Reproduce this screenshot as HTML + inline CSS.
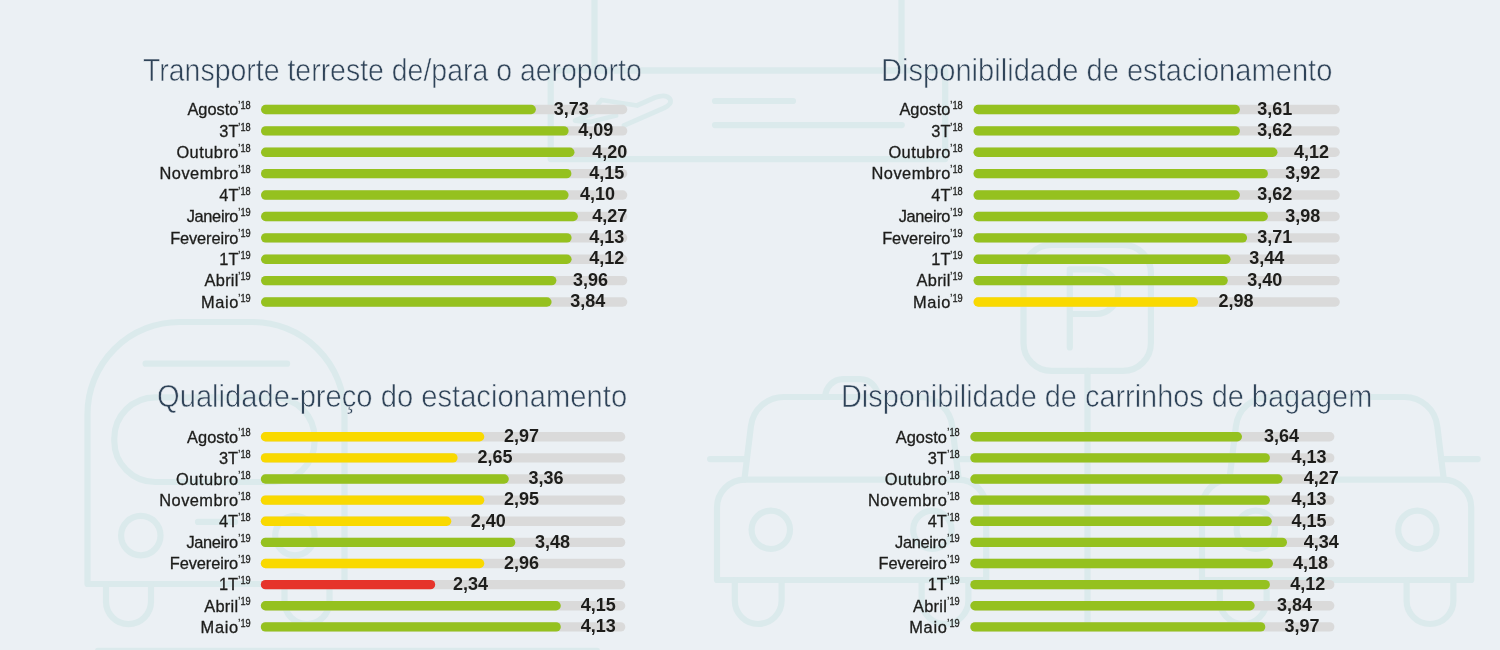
<!DOCTYPE html>
<html lang="pt">
<head>
<meta charset="utf-8">
<title>Indicadores de satisfação</title>
<style>
html,body{margin:0;padding:0;}
body{width:1500px;height:650px;overflow:hidden;background:#ebf0f4;position:relative;font-family:"Liberation Sans",sans-serif;}
#bg,#bars{position:absolute;left:0;top:0;}
.t{position:absolute;white-space:nowrap;color:#2f4358;font-size:31.3px;line-height:31.3px;transform-origin:0 0;font-weight:400;-webkit-text-stroke:0.6px #ebf0f4;}
.l{position:absolute;white-space:nowrap;color:#1d1d1b;font-size:16.4px;line-height:20px;text-align:right;-webkit-text-stroke:0.3px #1d1d1b;}
.l sup{display:inline-block;font-size:11px;line-height:0;vertical-align:baseline;position:relative;top:-6.1px;transform:scaleX(.84);transform-origin:100% 50%;margin-left:-2.3px;}
.v{position:absolute;white-space:nowrap;color:#1d1d1b;font-weight:700;font-size:18px;line-height:20px;}
</style>
</head>
<body>
<svg id="bg" width="1500" height="650" viewBox="0 0 1500 650" fill="none" stroke="#dbeaec" stroke-width="6.2" stroke-linecap="round" stroke-linejoin="round">

<path d="M594.5 -5 V70.5 H901.5 V-5"/>
<rect x="550.7" y="70.5" width="394.5" height="88.6"/>
<path d="M715 101 H793 M715 125.1 H901.8"/>
<path stroke-width="4.8" d="M598 104 L601.5 100 L637 105.5 L655 97.5 Q666 93.5 670 99 Q672.5 104 664 108 L624 125.5 M616 115.5 L590 122 L575 120.5 L594 113"/>
<path d="M87.5 584 V414 A92 92 0 0 1 179.5 322 H252.5 A92 92 0 0 1 344.5 414 V584 Z"/>
<rect x="114.3" y="397.3" width="200.3" height="84.7" rx="41"/>
<path d="M145.6 363.7 H287.1 M198 521.9 H235"/>
<circle cx="140.8" cy="535.6" r="19.7"/><circle cx="294.9" cy="535.6" r="19.7"/>
<path d="M106.0 584 V601.6 A22.5 22.5 0 0 0 151.0 601.6 V584"/>
<path d="M284.5 584 V601.6 A22.5 22.5 0 0 0 329.5 601.6 V584"/>
<path d="M98 650.8 H597"/>
<rect x="1023.5" y="244.8" width="127.4" height="126.1" rx="28"/>
<path d="M1087.5 370.9 V624 M1047 626 H1128"/>
<path d="M1069.8 347.5 V269.4 H1095.9 A22.3 22.3 0 0 1 1095.9 314 H1069.8"/>
<path d="M717.0 580 V507.6 A28 28 0 0 1 745.0 479.6 H958.2 A28 28 0 0 1 986.2 507.6 V580 Z"/>
<path d="M744.4 479.6 L750.9 426.3 A33 33 0 0 1 784.0 397 H919.2 A33 33 0 0 1 952.3 426.3 L958.8 479.6"/>
<path d="M825.3 397 A17.8 17.8 0 0 1 843.1 379.2 H860.1 A17.8 17.8 0 0 1 877.9 397"/>
<path d="M710.1 459.1 H746.8 M956.4 459.1 H992.8"/>
<circle cx="770.8" cy="529.8" r="19.2"/>
<circle cx="932.4" cy="529.8" r="19.2"/>
<path d="M734.8 580 V600.6 A23.4 23.4 0 0 0 781.6 600.6 V580"/>
<path d="M921.6 580 V600.6 A23.4 23.4 0 0 0 968.4 600.6 V580"/>
<path d="M1202.0 580 V507.6 A28 28 0 0 1 1230.0 479.6 H1443.2 A28 28 0 0 1 1471.2 507.6 V580 Z"/>
<path d="M1229.4 479.6 L1235.9 426.3 A33 33 0 0 1 1269.0 397 H1404.2 A33 33 0 0 1 1437.3 426.3 L1443.8 479.6"/>
<path d="M1195.1 459.1 H1231.8 M1441.4 459.1 H1477.8"/>
<circle cx="1255.8" cy="529.8" r="19.2"/>
<circle cx="1417.4" cy="529.8" r="19.2"/>
<path d="M1219.8 580 V600.6 A23.4 23.4 0 0 0 1266.6 600.6 V580"/>
<path d="M1406.6 580 V600.6 A23.4 23.4 0 0 0 1453.4 600.6 V580"/>
</svg>

<svg id="bars" width="1500" height="650" viewBox="0 0 1500 650" fill="none" stroke-width="9.4" stroke-linecap="round">
<path stroke="#dadada" d="M265.7 109.50H622.6"/><path stroke="#95c11f" d="M265.7 109.50H531.2"/>
<path stroke="#dadada" d="M265.7 130.89H622.6"/><path stroke="#95c11f" d="M265.7 130.89H563.9"/>
<path stroke="#dadada" d="M265.7 152.28H622.6"/><path stroke="#95c11f" d="M265.7 152.28H569.8"/>
<path stroke="#dadada" d="M265.7 173.67H622.6"/><path stroke="#95c11f" d="M265.7 173.67H566.7"/>
<path stroke="#dadada" d="M265.7 195.06H622.6"/><path stroke="#95c11f" d="M265.7 195.06H563.9"/>
<path stroke="#dadada" d="M265.7 216.45H622.6"/><path stroke="#95c11f" d="M265.7 216.45H573.2"/>
<path stroke="#dadada" d="M265.7 237.84H622.6"/><path stroke="#95c11f" d="M265.7 237.84H566.9"/>
<path stroke="#dadada" d="M265.7 259.23H622.6"/><path stroke="#95c11f" d="M265.7 259.23H566.9"/>
<path stroke="#dadada" d="M265.7 280.62H622.6"/><path stroke="#95c11f" d="M265.7 280.62H551.7"/>
<path stroke="#dadada" d="M265.7 302.01H622.6"/><path stroke="#95c11f" d="M265.7 302.01H546.9"/>
<path stroke="#dadada" d="M978.2 109.50H1335.1"/><path stroke="#95c11f" d="M978.2 109.50H1235.2"/>
<path stroke="#dadada" d="M978.2 130.89H1335.1"/><path stroke="#95c11f" d="M978.2 130.89H1235.2"/>
<path stroke="#dadada" d="M978.2 152.28H1335.1"/><path stroke="#95c11f" d="M978.2 152.28H1272.8"/>
<path stroke="#dadada" d="M978.2 173.67H1335.1"/><path stroke="#95c11f" d="M978.2 173.67H1263.2"/>
<path stroke="#dadada" d="M978.2 195.06H1335.1"/><path stroke="#95c11f" d="M978.2 195.06H1235.2"/>
<path stroke="#dadada" d="M978.2 216.45H1335.1"/><path stroke="#95c11f" d="M978.2 216.45H1263.2"/>
<path stroke="#dadada" d="M978.2 237.84H1335.1"/><path stroke="#95c11f" d="M978.2 237.84H1242.4"/>
<path stroke="#dadada" d="M978.2 259.23H1335.1"/><path stroke="#95c11f" d="M978.2 259.23H1225.9"/>
<path stroke="#dadada" d="M978.2 280.62H1335.1"/><path stroke="#95c11f" d="M978.2 280.62H1223.1"/>
<path stroke="#dadada" d="M978.2 302.01H1335.1"/><path stroke="#f9d900" d="M978.2 302.01H1193.3"/>
<path stroke="#dadada" d="M265.5 436.80H620.6"/><path stroke="#f9d900" d="M265.5 436.80H479.6"/>
<path stroke="#dadada" d="M265.5 457.92H620.6"/><path stroke="#f9d900" d="M265.5 457.92H452.9"/>
<path stroke="#dadada" d="M265.5 479.04H620.6"/><path stroke="#95c11f" d="M265.5 479.04H504.1"/>
<path stroke="#dadada" d="M265.5 500.16H620.6"/><path stroke="#f9d900" d="M265.5 500.16H479.6"/>
<path stroke="#dadada" d="M265.5 521.28H620.6"/><path stroke="#f9d900" d="M265.5 521.28H446.6"/>
<path stroke="#dadada" d="M265.5 542.40H620.6"/><path stroke="#95c11f" d="M265.5 542.40H510.6"/>
<path stroke="#dadada" d="M265.5 563.52H620.6"/><path stroke="#f9d900" d="M265.5 563.52H479.6"/>
<path stroke="#dadada" d="M265.5 584.64H620.6"/><path stroke="#e6332a" d="M265.5 584.64H430.5"/>
<path stroke="#dadada" d="M265.5 605.76H620.6"/><path stroke="#95c11f" d="M265.5 605.76H556.1"/>
<path stroke="#dadada" d="M265.5 626.88H620.6"/><path stroke="#95c11f" d="M265.5 626.88H556.1"/>
<path stroke="#dadada" d="M975.0 436.80H1329.7"/><path stroke="#95c11f" d="M975.0 436.80H1237.3"/>
<path stroke="#dadada" d="M975.0 457.92H1329.7"/><path stroke="#95c11f" d="M975.0 457.92H1265.2"/>
<path stroke="#dadada" d="M975.0 479.04H1329.7"/><path stroke="#95c11f" d="M975.0 479.04H1277.9"/>
<path stroke="#dadada" d="M975.0 500.16H1329.7"/><path stroke="#95c11f" d="M975.0 500.16H1265.2"/>
<path stroke="#dadada" d="M975.0 521.28H1329.7"/><path stroke="#95c11f" d="M975.0 521.28H1267.1"/>
<path stroke="#dadada" d="M975.0 542.40H1329.7"/><path stroke="#95c11f" d="M975.0 542.40H1282.3"/>
<path stroke="#dadada" d="M975.0 563.52H1329.7"/><path stroke="#95c11f" d="M975.0 563.52H1268.3"/>
<path stroke="#dadada" d="M975.0 584.64H1329.7"/><path stroke="#95c11f" d="M975.0 584.64H1265.2"/>
<path stroke="#dadada" d="M975.0 605.76H1329.7"/><path stroke="#95c11f" d="M975.0 605.76H1250.0"/>
<path stroke="#dadada" d="M975.0 626.88H1329.7"/><path stroke="#95c11f" d="M975.0 626.88H1260.6"/>
</svg>
<div class="t" style="left:142.7px;top:55.1px;transform:scaleX(0.9091)">Transporte terreste de/para o aeroporto</div>
<div class="l" style="right:1249.2px;top:99.2px">Agosto<sup>’18</sup></div>
<div class="v" style="left:553.8px;top:98.7px">3,73</div>
<div class="l" style="right:1249.2px;top:120.6px">3T<sup>’18</sup></div>
<div class="v" style="left:578.2px;top:120.1px">4,09</div>
<div class="l" style="right:1249.2px;top:142.0px"><span style="letter-spacing:0.47px;margin-right:-0.47px">Outubro</span><sup>’18</sup></div>
<div class="v" style="left:592.3px;top:141.5px">4,20</div>
<div class="l" style="right:1249.2px;top:163.4px"><span style="letter-spacing:0.46px;margin-right:-0.46px">Novembro</span><sup>’18</sup></div>
<div class="v" style="left:589.2px;top:162.9px">4,15</div>
<div class="l" style="right:1249.2px;top:184.8px">4T<sup>’18</sup></div>
<div class="v" style="left:580.0px;top:184.3px">4,10</div>
<div class="l" style="right:1249.2px;top:206.1px"><span style="letter-spacing:-0.34px;margin-right:0.34px">Janeiro</span><sup>’19</sup></div>
<div class="v" style="left:592.3px;top:205.6px">4,27</div>
<div class="l" style="right:1249.2px;top:227.5px"><span style="letter-spacing:-0.12px;margin-right:0.12px">Fevereiro</span><sup>’19</sup></div>
<div class="v" style="left:589.2px;top:227.0px">4,13</div>
<div class="l" style="right:1249.2px;top:248.9px">1T<sup>’19</sup></div>
<div class="v" style="left:589.2px;top:248.4px">4,12</div>
<div class="l" style="right:1249.2px;top:270.3px"><span style="letter-spacing:0.26px;margin-right:-0.26px">Abril</span><sup>’19</sup></div>
<div class="v" style="left:573.1px;top:269.8px">3,96</div>
<div class="l" style="right:1249.2px;top:291.7px"><span style="letter-spacing:0.65px;margin-right:-0.65px">Maio</span><sup>’19</sup></div>
<div class="v" style="left:570.3px;top:291.2px">3,84</div>
<div class="t" style="left:880.5px;top:55.1px;transform:scaleX(0.9298)">Disponibilidade de estacionamento</div>
<div class="l" style="right:537.2px;top:99.2px">Agosto<sup>’18</sup></div>
<div class="v" style="left:1257.2px;top:98.7px">3,61</div>
<div class="l" style="right:537.2px;top:120.6px">3T<sup>’18</sup></div>
<div class="v" style="left:1257.2px;top:120.1px">3,62</div>
<div class="l" style="right:537.2px;top:142.0px"><span style="letter-spacing:0.47px;margin-right:-0.47px">Outubro</span><sup>’18</sup></div>
<div class="v" style="left:1294.1px;top:141.5px">4,12</div>
<div class="l" style="right:537.2px;top:163.4px"><span style="letter-spacing:0.46px;margin-right:-0.46px">Novembro</span><sup>’18</sup></div>
<div class="v" style="left:1285.3px;top:162.9px">3,92</div>
<div class="l" style="right:537.2px;top:184.8px">4T<sup>’18</sup></div>
<div class="v" style="left:1257.2px;top:184.3px">3,62</div>
<div class="l" style="right:537.2px;top:206.1px"><span style="letter-spacing:-0.34px;margin-right:0.34px">Janeiro</span><sup>’19</sup></div>
<div class="v" style="left:1285.3px;top:205.6px">3,98</div>
<div class="l" style="right:537.2px;top:227.5px"><span style="letter-spacing:-0.12px;margin-right:0.12px">Fevereiro</span><sup>’19</sup></div>
<div class="v" style="left:1257.2px;top:227.0px">3,71</div>
<div class="l" style="right:537.2px;top:248.9px">1T<sup>’19</sup></div>
<div class="v" style="left:1249.3px;top:248.4px">3,44</div>
<div class="l" style="right:537.2px;top:270.3px"><span style="letter-spacing:0.26px;margin-right:-0.26px">Abril</span><sup>’19</sup></div>
<div class="v" style="left:1247.2px;top:269.8px">3,40</div>
<div class="l" style="right:537.2px;top:291.7px"><span style="letter-spacing:0.65px;margin-right:-0.65px">Maio</span><sup>’19</sup></div>
<div class="v" style="left:1218.4px;top:291.2px">2,98</div>
<div class="t" style="left:157.3px;top:381.0px;transform:scaleX(0.9317)">Qualidade-preço do estacionamento</div>
<div class="l" style="right:1249.5px;top:426.5px">Agosto<sup>’18</sup></div>
<div class="v" style="left:504.1px;top:426.0px">2,97</div>
<div class="l" style="right:1249.5px;top:447.6px">3T<sup>’18</sup></div>
<div class="v" style="left:477.5px;top:447.1px">2,65</div>
<div class="l" style="right:1249.5px;top:468.7px"><span style="letter-spacing:0.47px;margin-right:-0.47px">Outubro</span><sup>’18</sup></div>
<div class="v" style="left:528.6px;top:468.2px">3,36</div>
<div class="l" style="right:1249.5px;top:489.9px"><span style="letter-spacing:0.46px;margin-right:-0.46px">Novembro</span><sup>’18</sup></div>
<div class="v" style="left:504.1px;top:489.4px">2,95</div>
<div class="l" style="right:1249.5px;top:511.0px">4T<sup>’18</sup></div>
<div class="v" style="left:470.8px;top:510.5px">2,40</div>
<div class="l" style="right:1249.5px;top:532.1px"><span style="letter-spacing:-0.34px;margin-right:0.34px">Janeiro</span><sup>’19</sup></div>
<div class="v" style="left:535.1px;top:531.6px">3,48</div>
<div class="l" style="right:1249.5px;top:553.2px"><span style="letter-spacing:-0.12px;margin-right:0.12px">Fevereiro</span><sup>’19</sup></div>
<div class="v" style="left:504.1px;top:552.7px">2,96</div>
<div class="l" style="right:1249.5px;top:574.3px">1T<sup>’19</sup></div>
<div class="v" style="left:453.0px;top:573.8px">2,34</div>
<div class="l" style="right:1249.5px;top:595.5px"><span style="letter-spacing:0.26px;margin-right:-0.26px">Abril</span><sup>’19</sup></div>
<div class="v" style="left:580.8px;top:595.0px">4,15</div>
<div class="l" style="right:1249.5px;top:616.6px"><span style="letter-spacing:0.65px;margin-right:-0.65px">Maio</span><sup>’19</sup></div>
<div class="v" style="left:580.8px;top:616.1px">4,13</div>
<div class="t" style="left:840.5px;top:381.0px;transform:scaleX(0.9224)">Disponibilidade de carrinhos de bagagem</div>
<div class="l" style="right:540.8px;top:426.5px">Agosto<sup>’18</sup></div>
<div class="v" style="left:1264.0px;top:426.0px">3,64</div>
<div class="l" style="right:540.8px;top:447.6px">3T<sup>’18</sup></div>
<div class="v" style="left:1291.6px;top:447.1px">4,13</div>
<div class="l" style="right:540.8px;top:468.7px"><span style="letter-spacing:0.47px;margin-right:-0.47px">Outubro</span><sup>’18</sup></div>
<div class="v" style="left:1303.8px;top:468.2px">4,27</div>
<div class="l" style="right:540.8px;top:489.9px"><span style="letter-spacing:0.46px;margin-right:-0.46px">Novembro</span><sup>’18</sup></div>
<div class="v" style="left:1291.6px;top:489.4px">4,13</div>
<div class="l" style="right:540.8px;top:511.0px">4T<sup>’18</sup></div>
<div class="v" style="left:1291.6px;top:510.5px">4,15</div>
<div class="l" style="right:540.8px;top:532.1px"><span style="letter-spacing:-0.34px;margin-right:0.34px">Janeiro</span><sup>’19</sup></div>
<div class="v" style="left:1303.8px;top:531.6px">4,34</div>
<div class="l" style="right:540.8px;top:553.2px"><span style="letter-spacing:-0.12px;margin-right:0.12px">Fevereiro</span><sup>’19</sup></div>
<div class="v" style="left:1293.0px;top:552.7px">4,18</div>
<div class="l" style="right:540.8px;top:574.3px">1T<sup>’19</sup></div>
<div class="v" style="left:1290.2px;top:573.8px">4,12</div>
<div class="l" style="right:540.8px;top:595.5px"><span style="letter-spacing:0.26px;margin-right:-0.26px">Abril</span><sup>’19</sup></div>
<div class="v" style="left:1276.9px;top:595.0px">3,84</div>
<div class="l" style="right:540.8px;top:616.6px"><span style="letter-spacing:0.65px;margin-right:-0.65px">Maio</span><sup>’19</sup></div>
<div class="v" style="left:1284.5px;top:616.1px">3,97</div>
</body>
</html>
